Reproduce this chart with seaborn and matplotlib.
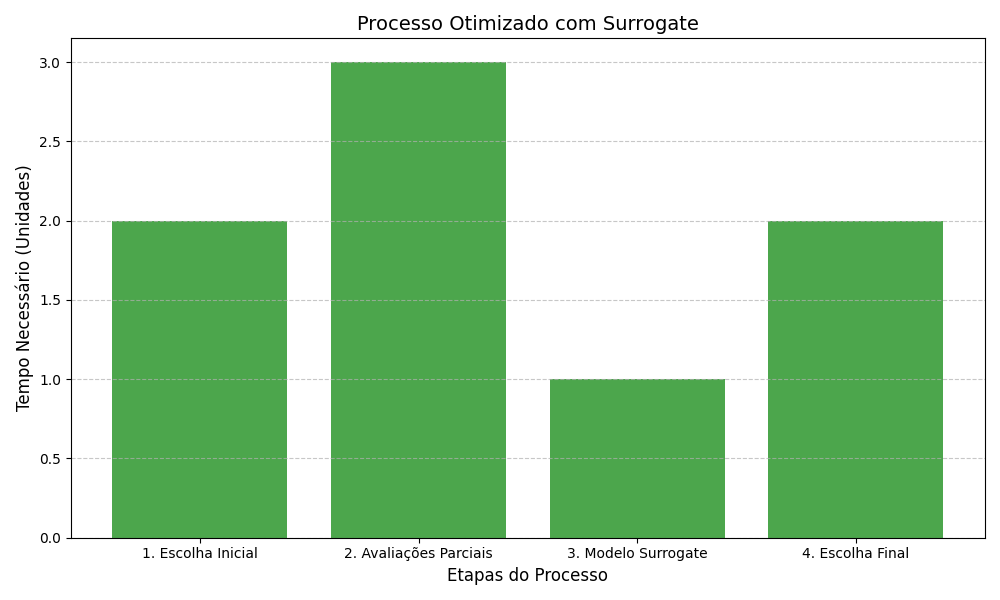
import matplotlib
matplotlib.use("Agg")
import matplotlib.pyplot as plt
import seaborn as sns
import pandas as pd

etapas = ["1. Escolha Inicial", "2. Avaliações Parciais", "3. Modelo Surrogate", "4. Escolha Final"]
tempos = [2, 3, 1, 2]

df = pd.DataFrame({"Etapa": etapas, "Tempo": tempos})

fig, ax = plt.subplots(figsize=(10, 6), dpi=100)
sns.barplot(data=df, x="Etapa", y="Tempo", color="green", saturation=1, alpha=0.7,
            width=0.8, ax=ax, errorbar=None)
ax.set_xlim(-0.59, 3.59)
ax.set_title("Processo Otimizado com Surrogate", fontsize=14)
ax.set_xlabel("Etapas do Processo", fontsize=12)
ax.set_ylabel("Tempo Necessário (Unidades)", fontsize=12)
ax.grid(axis="y", linestyle="--", alpha=0.7)
fig.tight_layout()
fig.savefig("out.png")
